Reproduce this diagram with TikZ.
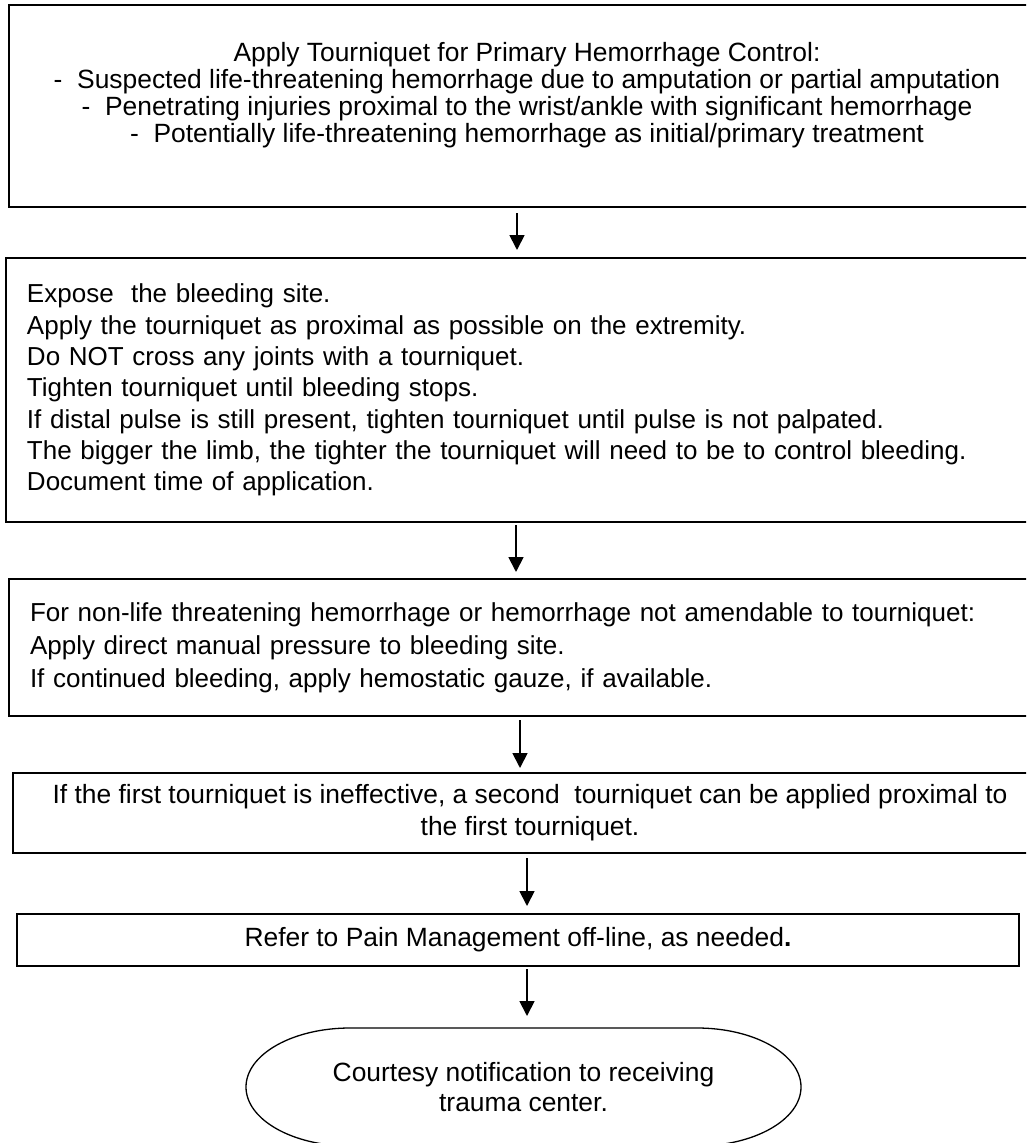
\documentclass[tikz,border=0pt]{standalone}
\usepackage{fontspec}
\setmainfont{Liberation Sans}
\usetikzlibrary{arrows.meta}
\begin{document}
\begin{tikzpicture}[x=1pt,y=1pt,
  box/.style={draw=black, line width=1.8pt, inner ysep=0pt, outer sep=0pt},
  flow/.style={line width=1.8pt, -{Triangle[length=15pt,width=15pt]}, shorten <=4pt, shorten >=7pt},
  fs/.style={font=\fontsize{26.4}{#1}\selectfont},
  fsm/.style={font=\fontsize{26}{#1}\selectfont}
]
\clip (0,0) rectangle (1026,-1143);
\fill[white] (0,0) rectangle (1026,-1143);

\node[box, minimum width=1036pt, minimum height=202pt, inner xsep=10pt, align=center, fs=27] (b1) at (527,-106)
 {Apply Tourniquet for Primary Hemorrhage Control:\\
  -\ \ Suspected life-threatening hemorrhage due to amputation or partial amputation\\
  -\ \ Penetrating injuries proximal to the wrist/ankle with significant hemorrhage\\
  -\ \ Potentially life-threatening hemorrhage as initial/primary treatment\\
  \mbox{}};

\node[box, minimum width=1040pt, minimum height=264pt, inner xsep=21pt, text width=998pt, align=left, fsm=31.3] (b2) at (526,-390)
 {Expose\ \ the bleeding site.\\
  Apply the tourniquet as proximal as possible on the extremity.\\
  Do NOT cross any joints with a tourniquet.\\
  Tighten tourniquet until bleeding stops.\\
  If distal pulse is still present, tighten tourniquet until pulse is not palpated.\\
  The bigger the limb, the tighter the tourniquet will need to be to control bleeding.\\
  Document time of application.};

\node[box, minimum width=1038pt, minimum height=137pt, inner xsep=21pt, text width=996pt, align=left, fsm=33] (b3) at (528,-647.5)
 {For non-life threatening hemorrhage or hemorrhage not amendable to tourniquet:\\
  Apply direct manual pressure to bleeding site.\\
  If continued bleeding, apply hemostatic gauze, if available.};

\node[box, minimum width=1034pt, minimum height=80pt, inner xsep=10pt, align=center, fs=32] (b4) at (530,-813)
 {If the first tourniquet is ineffective, a second\ \ tourniquet can be applied proximal to\\
  the first tourniquet.};

\node[box, minimum width=1002pt, minimum height=52pt, inner xsep=10pt, align=center, fs=31] (b5) at (518,-940)
 {Refer to Pain Management off-line, as needed\textbf{.}};

\node[minimum width=555pt, minimum height=118pt, inner sep=0pt, outer sep=0pt, align=center, fs=30] (term) at (523.5,-1087)
 {Courtesy notification to receiving\\ trauma center.};
\draw[line width=1.3pt] ([xshift=104pt]term.north west) -- ([xshift=-104pt]term.north east)
  arc[start angle=90, end angle=-90, x radius=104pt, y radius=59pt]
  -- ([xshift=104pt]term.south west)
  arc[start angle=270, end angle=90, x radius=104pt, y radius=59pt] -- cycle;

\coordinate (ax1) at (517,0);
\coordinate (ax2) at (516,0);
\coordinate (ax3) at (520,0);
\coordinate (ax4) at (527,0);
\coordinate (ax5) at (527,0);

\draw[flow, shorten <=6pt, shorten >=8pt] (b1.south -| ax1) -- (b2.north -| ax1);
\draw[flow, shorten <=3pt] (b2.south -| ax2) -- (b3.north -| ax2);
\draw[flow, shorten >=5pt] (b3.south -| ax3) -- (b4.north -| ax3);
\draw[flow, shorten <=5pt, shorten >=8pt] (b4.south -| ax4) -- (b5.north -| ax4);
\draw[flow, shorten <=3pt, shorten >=12pt] (b5.south -| ax5) -- (term.north -| ax5);
\end{tikzpicture}
\end{document}
